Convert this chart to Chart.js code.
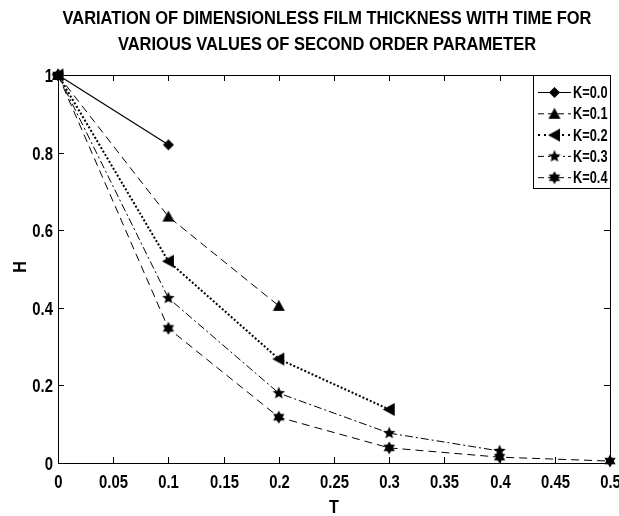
<!DOCTYPE html>
<html lang="en">
  <head>
    <meta charset="UTF-8" />
    <title>Film thickness vs time</title>
    <script src="https://cdn.jsdelivr.net/npm/chart.js"></script>
    <style>
      * { margin: 0; padding: 0; box-sizing: border-box; }
      body { background: #ffffff; }
      .wrap { width: 619px; height: 516px; position: relative; }
    </style>
  </head>
  <body>
    <div class="wrap"><canvas id="chart" width="619" height="516"></canvas></div>

    <script>
      // data
      const T = [0, 0.1, 0.2, 0.3, 0.4, 0.5];
      const kLabels = ["K=0.0", "K=0.1", "K=0.2", "K=0.3", "K=0.4"];
      const H_k00 = [1, 0.82];
      const H_k01 = [1, 0.635, 0.405];
      const H_k02 = [1, 0.52, 0.268, 0.138];
      const H_k03 = [1, 0.425, 0.18, 0.077, 0.031];
      const H_k04 = [1, 0.347, 0.118, 0.039, 0.015, 0.005];
      const xTicks = [0, 0.05, 0.1, 0.15, 0.2, 0.25, 0.3, 0.35, 0.4, 0.45, 0.5];
      const xTickLabels = ["0", "0.05", "0.1", "0.15", "0.2", "0.25", "0.3", "0.35", "0.4", "0.45", "0.5"];
      const yTicks = [0, 0.2, 0.4, 0.6, 0.8, 1];
      const yTickLabels = ["0", "0.2", "0.4", "0.6", "0.8", "1"];
      const titleLines = [
        "VARIATION OF DIMENSIONLESS FILM THICKNESS WITH TIME FOR",
        "VARIOUS VALUES OF SECOND ORDER PARAMETER",
      ];

      const FONT = "'Liberation Sans', Arial, sans-serif";

      // bold text squeezed horizontally, to look like the narrow MATLAB font
      function narrowText(ctx, text, x, y, size, align, ratio) {
        ctx.font = "bold " + size + "px " + FONT;
        ctx.textAlign = align;
        ctx.textBaseline = "middle";
        const w = ctx.measureText(text).width * ratio;
        ctx.fillText(text, x, y, w);
      }

      // small marker images, MATLAB style
      function marker(kind, size) {
        const c = document.createElement("canvas");
        c.width = size; c.height = size;
        const g = c.getContext("2d");
        const m = size / 2;
        g.fillStyle = "#000";
        g.beginPath();
        if (kind === "diamond") {
          g.moveTo(m, 1); g.lineTo(size - 1, m); g.lineTo(m, size - 1); g.lineTo(1, m);
        } else if (kind === "up") {
          g.moveTo(m, 1); g.lineTo(size - 1, size - 2); g.lineTo(1, size - 2);
        } else if (kind === "left") {
          g.moveTo(1, m); g.lineTo(size - 2, 1); g.lineTo(size - 2, size - 1);
        } else {
          const n = kind === "star5" ? 5 : 6;
          const ro = m - 0.5, ri = kind === "star5" ? ro * 0.45 : ro * 0.58;
          for (let i = 0; i < n * 2; i++) {
            const r = i % 2 ? ri : ro;
            const a = -Math.PI / 2 + (i * Math.PI) / n;
            const px = m + r * Math.cos(a), py = m + r * Math.sin(a);
            i ? g.lineTo(px, py) : g.moveTo(px, py);
          }
        }
        g.closePath();
        g.fill();
        return c;
      }

      const markers = [
        marker("diamond", 13),
        marker("up", 14),
        marker("left", 15),
        marker("star5", 14),
        marker("star6", 14),
      ];
      const dashes = [[], [8, 5], [2, 2], [8, 3, 2, 3], [8, 5]];
      const widths = [1.2, 1, 2, 1, 1];
      const series = [H_k00, H_k01, H_k02, H_k03, H_k04];

      const datasets = series.map((h, i) => ({
        label: kLabels[i],
        data: h.map((v, j) => ({ x: T[j], y: v })),
        borderColor: "#000",
        backgroundColor: "#000",
        borderWidth: widths[i],
        borderDash: dashes[i],
        pointStyle: markers[i],
        pointRadius: 7,
        tension: 0,
        fill: false,
        clip: false,
      }));

      // title, tick labels, box, inward ticks and legend, MATLAB-like
      const matlabBox = {
        id: "matlabBox",
        afterDatasetsDraw(chart) {
          const { ctx, chartArea: a, scales } = chart;
          ctx.save();
          ctx.fillStyle = "#000";
          ctx.strokeStyle = "#000";
          ctx.lineWidth = 1;
          ctx.setLineDash([]);

          narrowText(ctx, titleLines[0], 327, 18.5, 18.5, "center", 0.89);
          narrowText(ctx, titleLines[1], 327, 45, 18.5, "center", 0.89);

          ctx.strokeRect(a.left + 0.5, a.top + 0.5, a.right - a.left, a.bottom - a.top);
          const tl = 6;
          ctx.beginPath();
          xTicks.forEach((t, i) => {
            const px = Math.round(scales.x.getPixelForValue(t)) + 0.5;
            ctx.moveTo(px, a.bottom); ctx.lineTo(px, a.bottom - tl);
            ctx.moveTo(px, a.top); ctx.lineTo(px, a.top + tl);
            narrowText(ctx, xTickLabels[i], px, a.bottom + 20, 17.5, "center", 0.85);
          });
          yTicks.forEach((t, i) => {
            const py = Math.round(scales.y.getPixelForValue(t)) + 0.5;
            ctx.moveTo(a.left, py); ctx.lineTo(a.left + tl, py);
            ctx.moveTo(a.right, py); ctx.lineTo(a.right - tl, py);
            narrowText(ctx, yTickLabels[i], a.left - 5, py + 1.5, 17.5, "right", 0.85);
          });
          ctx.stroke();

          narrowText(ctx, "T", (a.left + a.right) / 2, 508, 18, "center", 0.9);
          ctx.save();
          ctx.translate(21, 267);
          ctx.rotate(-Math.PI / 2);
          narrowText(ctx, "H", 0, 0, 18, "center", 0.9);
          ctx.restore();

          // legend
          const lx = 533, ly = 75, lw = 77, lh = 113;
          ctx.fillStyle = "#fff";
          ctx.fillRect(lx, ly, lw, lh);
          ctx.strokeRect(lx + 0.5, ly + 0.5, lw, lh);
          kLabels.forEach((lab, i) => {
            const y = ly + 17.5 + i * 21.3;
            ctx.beginPath();
            ctx.setLineDash(dashes[i].length ? [Math.min(dashes[i][0], 6), 4].concat(dashes[i].slice(2)) : []);
            ctx.lineWidth = widths[i];
            ctx.moveTo(538, y); ctx.lineTo(571, y);
            ctx.stroke();
            ctx.setLineDash([]);
            const m = markers[i];
            ctx.drawImage(m, 554.5 - m.width / 2, y - m.height / 2);
            ctx.fillStyle = "#000";
            narrowText(ctx, lab, 573, y + 1, 16, "left", 0.8);
            ctx.fillStyle = "#fff";
          });
          ctx.restore();
        },
      };

      new Chart(document.getElementById("chart"), {
        type: "line",
        data: { datasets },
        plugins: [matlabBox],
        options: {
          responsive: false,
          animation: false,
          devicePixelRatio: 1,
          layout: { padding: { top: 75, right: 8 } },
          plugins: {
            legend: { display: false },
            tooltip: { enabled: false },
            title: { display: false },
          },
          scales: {
            x: {
              type: "linear",
              min: 0,
              max: 0.5,
              afterBuildTicks: (s) => { s.ticks = xTicks.map((v) => ({ value: v })); },
              afterFit: (s) => { s.height = 53; },
              grid: { display: false, drawTicks: false },
              border: { display: false },
              ticks: { display: false },
            },
            y: {
              min: 0,
              max: 1,
              afterBuildTicks: (s) => { s.ticks = yTicks.map((v) => ({ value: v })); },
              afterFit: (s) => { s.width = 58; },
              grid: { display: false, drawTicks: false },
              border: { display: false },
              ticks: { display: false },
            },
          },
        },
      });
    </script>
  </body>
</html>
